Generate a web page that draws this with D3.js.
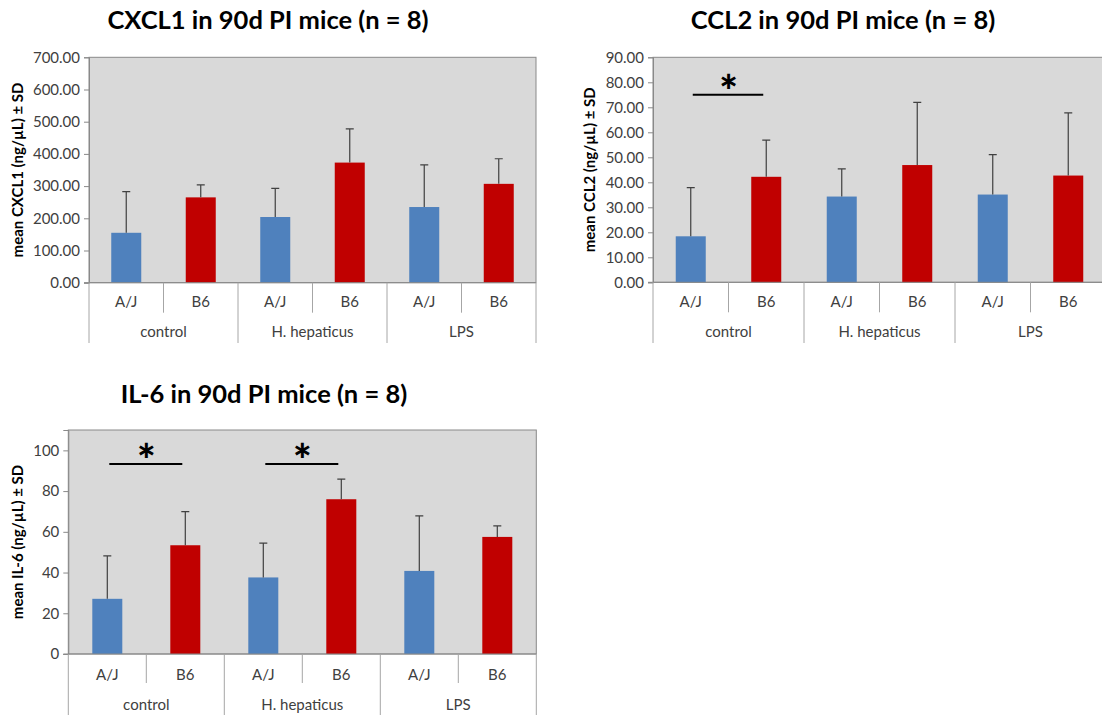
<!DOCTYPE html>
<html>
<head>
<meta charset="utf-8">
<title>Chemokines in 90d PI mice</title>
<style>
  body { margin: 0; background: #fff; }
  svg text { font-family: Lato, "Open Sans", sans-serif; }
</style>
</head>
<body>
<svg width="1102" height="715"></svg>
<script src="https://cdn.jsdelivr.net/npm/d3@7"></script>
<script>

// ---- data ----
var groups = ["control", "H. hepaticus", "LPS"];
var strains = ["A/J", "B6"];

var cxcl1Mean = [155, 265, 204, 373, 235, 307];
var cxcl1SD   = [128, 39, 89, 105, 131, 78];

var ccl2Mean = [18.4, 42.2, 34.3, 46.9, 35.1, 42.7];
var ccl2SD   = [19.5, 14.7, 11.1, 25.1, 16.0, 25.1];

var il6Mean = [27.1, 53.4, 37.6, 76.0, 40.8, 57.5];
var il6SD   = [21.1, 16.5, 16.8, 9.9, 27.0, 5.4];

var cxcl1Ticks = [0, 100, 200, 300, 400, 500, 600, 700];
var ccl2Ticks  = [0, 10, 20, 30, 40, 50, 60, 70, 80, 90];
var il6Ticks   = [0, 20, 40, 60, 80, 100];

// significance bars: which group, at what value
var ccl2Sig = [{ group: "control", value: 75 }];
var il6Sig  = [{ group: "control", value: 93.3 }, { group: "H. hepaticus", value: 93.3 }];

var colors = { "A/J": "#4f81bd", "B6": "#c00000" };

var svg = d3.select("svg");

function drawChart(opt) {
  var x0 = d3.scaleBand().domain(groups).range([opt.left, opt.right]);
  var x1 = d3.scaleBand().domain(strains).range([0, x0.bandwidth()]);
  var y = d3.scaleLinear().domain([0, opt.max]).range([opt.bottom, opt.top]);

  var g = svg.append("g");

  // plot area
  g.append("rect")
    .attr("x", opt.left).attr("y", opt.top)
    .attr("width", opt.right - opt.left).attr("height", opt.bottom - opt.top)
    .attr("fill", "#d9d9d9")
    .attr("stroke", "#898989").attr("stroke-width", 1);

  // y axis
  var yAxis = g.append("g")
    .attr("transform", "translate(" + opt.left + ",0)")
    .call(d3.axisLeft(y).tickValues(opt.ticks).tickSize(5).tickPadding(4).tickFormat(opt.fmt));
  yAxis.select(".domain").attr("stroke", "#898989");
  yAxis.selectAll(".tick line").attr("stroke", "#898989");
  yAxis.selectAll(".tick text")
    .attr("fill", "#404040")
    .style("font-size", "15px");

  // y title
  g.append("text")
    .attr("transform", "translate(" + opt.titleX + "," + ((opt.top + opt.bottom) / 2) + ") rotate(-90)")
    .attr("text-anchor", "middle")
    .attr("dy", "0.35em")
    .style("font-size", "15px")
    .style("font-weight", "bold")
    .attr("fill", "#000")
    .text(opt.yTitle);

  // chart title
  g.append("text")
    .attr("x", opt.headX).attr("y", opt.headY)
    .attr("text-anchor", "middle")
    .style("font-size", "25.5px")
    .style("font-weight", "bold")
    .attr("fill", "#000")
    .text(opt.head);

  // bars
  var rows = [];
  groups.forEach(function(gr, i) {
    strains.forEach(function(s, j) {
      rows.push({ group: gr, strain: s, mean: opt.mean[i * 2 + j], sd: opt.sd[i * 2 + j] });
    });
  });

  var bw = 30;
  function cx(d) { return x0(d.group) + x1(d.strain) + x1.bandwidth() / 2; }

  g.selectAll(".bar").data(rows).enter().append("rect")
    .attr("class", "bar")
    .attr("x", function(d) { return cx(d) - bw / 2; })
    .attr("y", function(d) { return y(d.mean); })
    .attr("width", bw)
    .attr("height", function(d) { return y(0) - y(d.mean); })
    .attr("fill", function(d) { return colors[d.strain]; });

  // error bars (upper only)
  g.selectAll(".err").data(rows).enter().append("path")
    .attr("class", "err")
    .attr("d", function(d) {
      var c = cx(d), t = y(d.mean + d.sd);
      return "M" + c + "," + y(d.mean) + "V" + t + "M" + (c - 4) + "," + t + "H" + (c + 4);
    })
    .attr("stroke", "#404040").attr("stroke-width", 1.2).attr("fill", "none");

  // baseline across, with a small stub to the left
  g.append("line")
    .attr("x1", opt.left - 5).attr("x2", opt.right)
    .attr("y1", opt.bottom).attr("y2", opt.bottom)
    .attr("stroke", "#898989");

  // category axis: strain row and group row
  var sepColor = "#a6a6a6";
  groups.forEach(function(gr) {
    var gx = x0(gr);
    g.append("line")
      .attr("x1", gx).attr("x2", gx)
      .attr("y1", opt.bottom).attr("y2", opt.groupLineEnd)
      .attr("stroke", sepColor);
    g.append("line")
      .attr("x1", gx + x1("B6")).attr("x2", gx + x1("B6"))
      .attr("y1", opt.bottom).attr("y2", opt.bottom + opt.subLen)
      .attr("stroke", sepColor);
    strains.forEach(function(s) {
      g.append("text")
        .attr("x", gx + x1(s) + x1.bandwidth() / 2)
        .attr("y", opt.strainY)
        .attr("text-anchor", "middle")
        .attr("dy", "0.35em")
        .attr("fill", "#404040")
        .style("font-size", "15px")
        .text(s);
    });
    g.append("text")
      .attr("x", gx + x0.bandwidth() / 2)
      .attr("y", opt.groupY)
      .attr("text-anchor", "middle")
      .attr("dy", "0.35em")
      .attr("fill", "#404040")
      .style("font-size", "15px")
      .text(gr);
  });
  g.append("line")
    .attr("x1", opt.right).attr("x2", opt.right)
    .attr("y1", opt.bottom).attr("y2", opt.groupLineEnd)
    .attr("stroke", sepColor);

  // significance markers
  (opt.sig || []).forEach(function(s) {
    var a = x0(s.group) + x1("A/J") + x1.bandwidth() / 2;
    var b = x0(s.group) + x1("B6") + x1.bandwidth() / 2;
    var yy = y(s.value);
    g.append("line")
      .attr("x1", a + 2).attr("x2", b - 3)
      .attr("y1", yy).attr("y2", yy)
      .attr("stroke", "#000").attr("stroke-width", 2);
    g.append("text")
      .attr("x", (a + b) / 2)
      .attr("y", yy + 12)
      .attr("text-anchor", "middle")
      .style("font-size", "44px")
      .style("font-weight", "900")
      .attr("fill", "#000")
      .text("*");
  });
}

drawChart({
  head: "CXCL1 in 90d PI mice (n = 8)", headX: 268, headY: 29,
  yTitle: "mean CXCL1 (ng/\u00b5L) \u00b1 SD", titleX: 18,
  left: 89, right: 536, top: 57.3, bottom: 282.7, max: 700,
  ticks: cxcl1Ticks, fmt: d3.format(".2f"),
  mean: cxcl1Mean, sd: cxcl1SD,
  strainY: 302, groupY: 332, subLen: 30, groupLineEnd: 343
});

drawChart({
  head: "CCL2 in 90d PI mice (n = 8)", headX: 843, headY: 29,
  yTitle: "mean CCL2 (ng/\u00b5L) \u00b1 SD", titleX: 590,
  left: 653, right: 1106, top: 57.3, bottom: 282.3, max: 90,
  ticks: ccl2Ticks, fmt: d3.format(".2f"),
  mean: ccl2Mean, sd: ccl2SD, sig: ccl2Sig,
  strainY: 302, groupY: 332, subLen: 30, groupLineEnd: 343
});

drawChart({
  head: "IL-6 in 90d PI mice (n = 8)", headX: 264, headY: 403,
  yTitle: "mean IL-6 (ng/\u00b5L) \u00b1 SD", titleX: 18,
  left: 68.3, right: 536.3, top: 430, bottom: 654, max: 110,
  ticks: il6Ticks, fmt: d3.format("d"),
  mean: il6Mean, sd: il6SD, sig: il6Sig,
  strainY: 675, groupY: 705, subLen: 29, groupLineEnd: 716
});

</script>
</body>
</html>
